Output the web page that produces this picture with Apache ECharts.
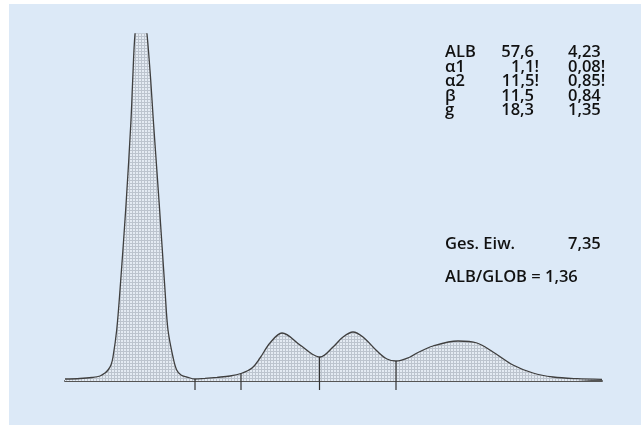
<!DOCTYPE html>
<html lang="de">
<head>
    <meta charset="UTF-8">
    <title>Serumelektrophorese</title>
    <script src="https://cdn.jsdelivr.net/npm/echarts@6/dist/echarts.min.js"></script>
    <style>
        html, body { margin: 0; padding: 0; background: #ffffff; }
        #chart { width: 641px; height: 425px; }
    </style>
</head>
<body>
<div id="chart"></div>
<script type="text/javascript">
    // Kurve: Laufstrecke (x) und Extinktion (y)
    var curveX = [0, 15, 27, 35, 40, 43, 46, 48, 51.7, 55, 61, 66, 67.7, 70, 76, 82, 85.7, 88.3, 94.3, 100, 103, 108, 111.7, 116, 122,
        130, 140, 152, 165, 176, 187, 195, 205, 217, 235, 247, 255, 268, 278, 288, 298, 312, 322, 331,
        345, 352, 368, 393, 412, 428, 448, 468, 488, 512, 537];
    var curveY = [2, 2.5, 3.5, 5, 8, 11, 16, 24, 51, 91, 176, 261, 301, 347, 400, 347, 301, 261, 176, 91, 51, 24, 11, 6, 4,
        2, 2.7, 3.7, 5, 7.5, 13, 23, 38, 48, 36, 27, 24, 34, 44, 49, 44, 30, 22, 20,
        24, 28, 35, 40, 38, 29, 16, 8, 4, 2.3, 1.7];

    // Fraktionsgrenzen
    var dividerX = [130, 176, 254.5, 331];
    var dividerTop = [2, 7.5, 24, 20];

    // Befund
    var fractionNames = ['ALB', 'α1', 'α2', 'β', 'g'];
    var relValues = ['57,6', '1,1!', '11,5!', '11,5', '18,3'];
    var absValues = ['4,23', '0,08!', '0,85!', '0,84', '1,35'];
    var totalLabel = 'Ges. Eiw.';
    var totalValue = '7,35';
    var ratioText = 'ALB/GLOB = 1,36';

    var myChart = echarts.init(document.getElementById('chart'));

    // Punktraster fuer die Flaeche
    var pat = document.createElement('canvas');
    pat.width = 3;
    pat.height = 3;
    var pc = pat.getContext('2d');
    pc.fillStyle = '#bcc4ce';
    pc.fillRect(0, 0, 3, 3);
    pc.fillStyle = '#e4ebf3';
    pc.fillRect(1, 1, 2, 2);

    var curveData = [];
    for (var i = 0; i < curveX.length; i++) {
        curveData.push([curveX[i], curveY[i]]);
    }
    var dividerData = [];
    for (var j = 0; j < dividerX.length; j++) {
        dividerData.push([dividerX[j], dividerTop[j]]);
    }

    var font = '600 16.5px "Open Sans", "DejaVu Sans", sans-serif';
    var textEls = [];
    var rowY = [52.5, 67, 81.5, 96, 110.5];
    for (var k = 0; k < fractionNames.length; k++) {
        textEls.push({ type: 'text', x: 445, y: rowY[k],
            style: { text: fractionNames[k], font: font, fill: '#111', verticalAlign: 'middle' } });
        textEls.push({ type: 'text', x: 534 + (relValues[k].slice(-1) === '!' ? 5 : 0), y: rowY[k],
            style: { text: relValues[k], font: font, fill: '#111', align: 'right', verticalAlign: 'middle' } });
        textEls.push({ type: 'text', x: 568, y: rowY[k],
            style: { text: absValues[k], font: font, fill: '#111', verticalAlign: 'middle' } });
    }
    textEls.push({ type: 'text', x: 445, y: 244,
        style: { text: totalLabel, font: font, fill: '#111', verticalAlign: 'middle' } });
    textEls.push({ type: 'text', x: 568, y: 244,
        style: { text: totalValue, font: font, fill: '#111', verticalAlign: 'middle' } });
    textEls.push({ type: 'text', x: 445, y: 277,
        style: { text: ratioText, font: font, fill: '#111', verticalAlign: 'middle' } });

    var option = {
        animation: false,
        backgroundColor: '#ffffff',
        graphic: [{
            type: 'rect', z: -10, silent: true,
            shape: { x: 9, y: 4, width: 632, height: 421 },
            style: { fill: '#dce9f7' }
        }].concat(textEls),
        grid: { left: 65, right: 39, top: 34, bottom: 44 },
        xAxis: {
            type: 'value', min: 0, max: 537,
            axisLine: { show: true, lineStyle: { color: '#555', width: 2 } },
            axisTick: { show: false },
            axisLabel: { show: false },
            splitLine: { show: false }
        },
        yAxis: {
            type: 'value', min: 0, max: 347,
            axisLine: { show: false },
            axisTick: { show: false },
            axisLabel: { show: false },
            splitLine: { show: false }
        },
        series: [{
            type: 'line',
            data: curveData,
            smooth: 0.35,
            symbol: 'none',
            clip: true,
            lineStyle: { color: '#3f3f3f', width: 1.3 },
            areaStyle: { color: { image: pat, repeat: 'repeat' }, opacity: 1 },
            z: 2
        }, {
            type: 'custom',
            data: dividerData,
            clip: false,
            z: 3,
            renderItem: function (params, api) {
                var top = api.coord([api.value(0), api.value(1)]);
                var bottom = api.coord([api.value(0), 0]);
                return {
                    type: 'line',
                    shape: { x1: top[0], y1: top[1], x2: bottom[0], y2: bottom[1] + 9 },
                    style: { stroke: '#333', lineWidth: 1.2 }
                };
            }
        }]
    };

    myChart.setOption(option);
</script>
</body>
</html>
